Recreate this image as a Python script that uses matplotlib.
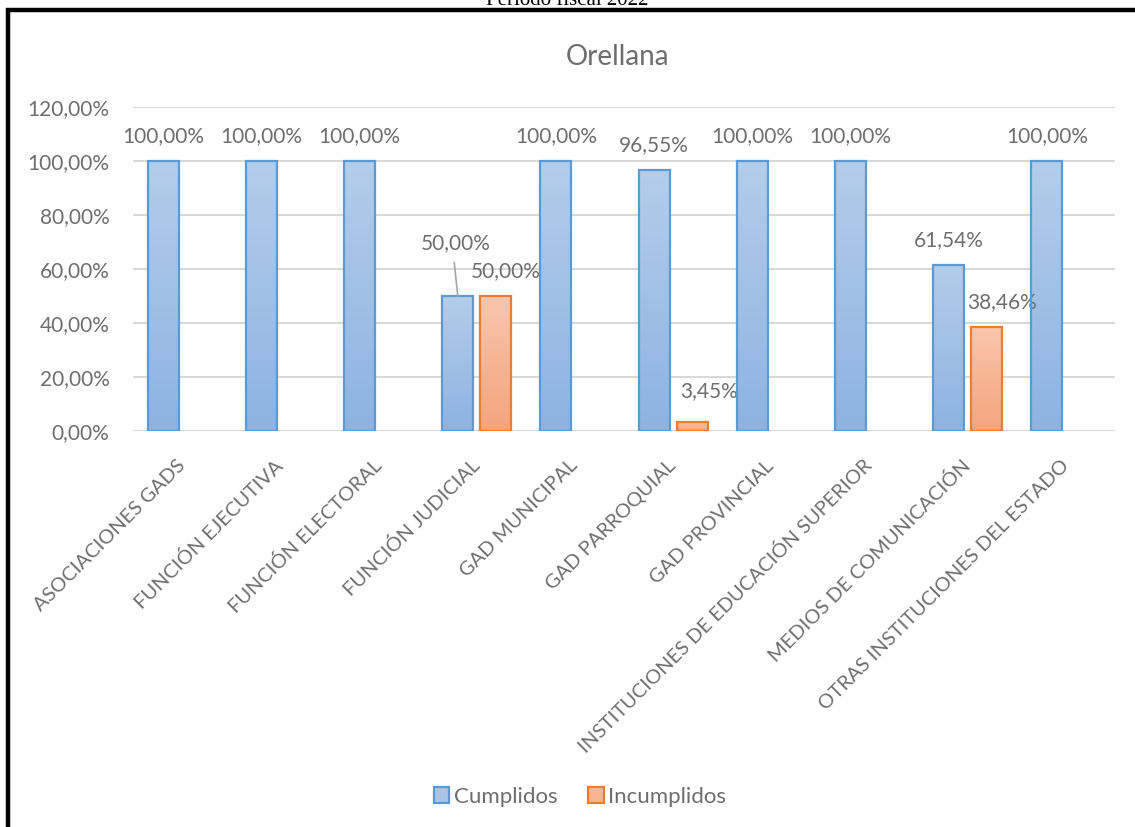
import numpy as np
import matplotlib
matplotlib.use('Agg')
import matplotlib.pyplot as plt
from matplotlib.patches import Rectangle

plt.rcParams['font.family'] = ['Lato', 'DejaVu Sans']

categorias = ['ASOCIACIONES GADS', 'FUNCIÓN EJECUTIVA', 'FUNCIÓN ELECTORAL',
              'FUNCIÓN JUDICIAL', 'GAD MUNICIPAL', 'GAD PARROQUIAL',
              'GAD PROVINCIAL', 'INSTITUCIONES DE EDUCACIÓN SUPERIOR',
              'MEDIOS DE COMUNICACIÓN', 'OTRAS INSTITUCIONES DEL ESTADO']
cumplidos = [100.0, 100.0, 100.0, 50.0, 100.0, 96.55, 100.0, 100.0, 61.54, 100.0]
incumplidos = [None, None, None, 50.0, None, 3.45, None, None, 38.46, None]
yticks = [0, 20, 40, 60, 80, 100, 120]

GRIS = '#6e6e6e'
W, H = 1135, 827

fig = plt.figure(figsize=(W / 100, H / 100), dpi=100)
ax = fig.add_axes([133 / W, 1 - 431 / H, 982 / W, 324 / H])

# marco negro recortado
fig.patches.append(Rectangle((8 / W, -0.05), 1.2, 1 - 10 / H + 0.05, transform=fig.transFigure,
                             fill=False, edgecolor='black', lw=3.2, clip_on=False))
fig.text(567 / W, 1 - 5 / H, 'Período fiscal 2022', ha='center', va='baseline',
         fontsize=15, family='Liberation Serif', color='black')
fig.text(618 / W, 1 - 57 / H, 'Orellana', ha='center', va='center', fontsize=20, color=GRIS)

x = np.arange(len(categorias))
ancho = 0.316
desp = 0.193


def barra_gradiente(xc, h, top, bottom, borde, z=3):
    if h is None:
        return None
    b = ax.bar(xc, h, ancho, facecolor='none', edgecolor=borde, lw=1.6, zorder=z + 1)[0]
    grad = np.linspace(0, 1, 100).reshape(-1, 1)
    c1 = np.array(matplotlib.colors.to_rgb(top))
    c2 = np.array(matplotlib.colors.to_rgb(bottom))
    img = c1 * (1 - grad[..., None]) + c2 * grad[..., None]
    im = ax.imshow(img, extent=[xc - ancho / 2, xc + ancho / 2, 0, h], origin='upper',
                   aspect='auto', zorder=z, interpolation='bilinear')
    im.set_clip_path(b)
    return b


for i in range(len(categorias)):
    barra_gradiente(x[i] - desp, cumplidos[i], '#b4cdea', '#8db3e2', '#5b9bd5')
    barra_gradiente(x[i] + desp, incumplidos[i], '#f8c6ac', '#f4a47c', '#ed7d31')

ax.set_xlim(-0.5, len(categorias) - 0.5)
ax.set_ylim(0, 120)
ax.set_yticks(yticks)
ax.set_yticklabels([f'{v:.2f}%'.replace('.', ',') for v in yticks])
ax.grid(axis='y', color='#d9d9d9', lw=1.5, zorder=0)
ax.set_axisbelow(True)
for s in ax.spines.values():
    s.set_visible(False)
ax.tick_params(axis='both', length=0, colors=GRIS, labelsize=15)
ax.tick_params(axis='y', pad=17)
ax.set_xticks(x)
ax.set_xticklabels(categorias, rotation=45, ha='right', va='center', rotation_mode='anchor',
                   fontsize=14.4)
ax.tick_params(axis='x', pad=23)

# etiquetas de datos (algunas movidas a mano como en el original)
ajuste_c = {3: (-2, 28)}
ajuste_i = {3: (10, 0), 5: (17, 6), 8: (15, 0)}
for i in range(len(categorias)):
    v = cumplidos[i]
    if v is not None:
        dx, dy = ajuste_c.get(i, (0, 0))
        ax.annotate(f'{v:.2f}%'.replace('.', ','), (x[i] - desp, v), xytext=(dx, 25 + dy),
                    textcoords='offset pixels', ha='center', va='center', fontsize=15, color=GRIS)
        if dy:
            # línea guía hacia la etiqueta desplazada
            ax.plot([x[i] - desp - 0.035, x[i] - desp], [v + 12.3, v], color='#a6a6a6',
                    lw=1.2, zorder=5)
    v = incumplidos[i]
    if v is not None:
        dx, dy = ajuste_i.get(i, (0, 0))
        ax.annotate(f'{v:.2f}%'.replace('.', ','), (x[i] + desp, v), xytext=(dx, 25 + dy),
                    textcoords='offset pixels', ha='center', va='center', fontsize=15, color=GRIS)

h1 = Rectangle((0, 0), 1, 1, facecolor='#a9c4e7', edgecolor='#5b9bd5', lw=1.6)
h2 = Rectangle((0, 0), 1, 1, facecolor='#f6b695', edgecolor='#ed7d31', lw=1.6)
fig.legend([h1, h2], ['Cumplidos', 'Incumplidos'], loc='center', bbox_to_anchor=(580 / W, 1 - 797 / H),
           ncol=2, frameon=False, fontsize=16, labelcolor=GRIS, handlelength=0.7, handleheight=0.7,
           handletextpad=0.2, columnspacing=1.4)

fig.savefig('out.png', dpi=100)
